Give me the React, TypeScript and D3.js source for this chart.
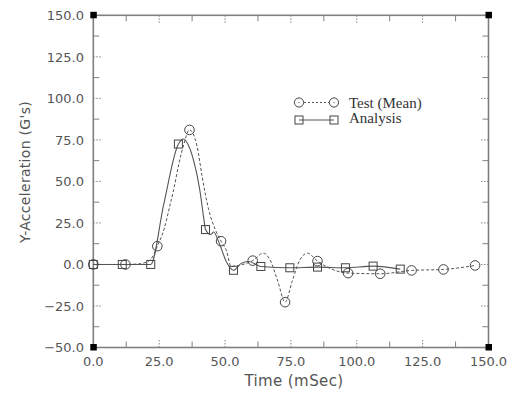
import React from "react";
import * as d3 from "d3";

// Marker positions (every plotted symbol)
const testTime = [0, 12.2, 24.3, 36.5, 48.5, 60.5, 72.8, 85.1, 96.7, 108.9, 120.8, 132.9, 144.9];
const testAcc = [0, 0, 11, 81, 14, 2.3, -22.7, 2, -5.2, -5.6, -3.6, -3, -0.6];

const anaTime = [0, 11, 21.8, 32.3, 42.6, 53.2, 63.6, 74.6, 85.1, 95.7, 106.2, 116.5];
const anaAcc = [0, 0, 0, 72.5, 21, -3.5, -1.2, -2, -1.6, -2, -1, -2.8];

// Underlying time histories (lines)
const testLineTime = [0, 12.2, 18, 21.6, 24.3, 27, 29, 30.5, 32.4, 34.3, 36.5, 39.4, 41.3, 43.8, 46.3, 48.5, 50.6, 52.3, 55.5, 60.5, 64.5, 67, 70, 72.8, 75.5, 78.5, 81.3, 85.1, 96.7, 108.9, 120.8, 132.9, 144.9];
const testLineAcc = [0, 0, 0.5, 2.7, 11, 22, 35, 45, 60, 72, 81, 71, 53, 33, 21, 14, 8, -1.3, -0.5, 2.3, 6.8, 3, -10, -22.7, -10, 3, 6.8, 2, -5.2, -5.6, -3.6, -3, -0.6];

const anaLineTime = [0, 11, 21.8, 26.7, 32.3, 34.3, 36, 38, 40.6, 41.9, 42.6, 44.5, 45.7, 47.5, 50.7, 53.2, 56, 59, 63.6, 74.6, 85.1, 95.7, 106.2, 116.5];
const anaLineAcc = [0, 0, 0, 36, 72.5, 75.5, 72, 63, 43, 28, 21, 18, 19.5, 14, 1, -3.5, 0.5, 1.8, -1.2, -2, -1.6, -2, -1, -2.8];

const xTicks = [0, 25, 50, 75, 100, 125, 150];
const yTicks = [-50, -25, 0, 25, 50, 75, 100, 125, 150];
const xMinor = [12.5, 37.5, 62.5, 87.5, 112.5, 137.5];
const yMinor = [-37.5, -12.5, 12.5, 37.5, 62.5, 87.5, 112.5, 137.5];

const legendLabels = ["Test (Mean)", "Analysis"];

const W = 517, H = 399;
const L = 93.3, R = 488.5, T = 15.3, B = 347.5;
const axisColor = "#808080";
const lineColor = "#555";
const textColor = "#555";
const sans = "'DejaVu Sans', sans-serif";

export default function App() {
  const x = d3.scaleLinear().domain([0, 150]).range([L, R]);
  const y = d3.scaleLinear().domain([-50, 150]).range([B, T]);

  const lineGen = d3
    .line<[number, number]>()
    .x((d) => x(d[0]))
    .y((d) => y(d[1]))
    .curve(d3.curveMonotoneX);

  const testPts: [number, number][] = testTime.map((t, i) => [t, testAcc[i]]);
  const anaPts: [number, number][] = anaTime.map((t, i) => [t, anaAcc[i]]);
  const testLine: [number, number][] = testLineTime.map((t, i) => [t, testLineAcc[i]]);
  const anaLine: [number, number][] = anaLineTime.map((t, i) => [t, anaLineAcc[i]]);

  const tickLen = 6;
  const majorLen = 9;

  return (
    <svg
      width={W}
      height={H}
      style={{ position: "absolute", left: 0, top: 0, background: "#fff", display: "block" }}
    >
      <rect x={0} y={0} width={W} height={H} fill="#fff" />
      <rect x={L} y={T} width={R - L} height={B - T} fill="none" stroke={axisColor} strokeWidth={1.6} />
      {xMinor.map((v) => (
        <g key={"xm" + v}>
          <line x1={x(v)} x2={x(v)} y1={B} y2={B - tickLen} stroke={axisColor} strokeWidth={1} />
          <line x1={x(v)} x2={x(v)} y1={T} y2={T + tickLen} stroke={axisColor} strokeWidth={1} />
        </g>
      ))}
      {xTicks.slice(1, -1).map((v) => (
        <g key={"xM" + v}>
          <line x1={x(v)} x2={x(v)} y1={B} y2={B - majorLen} stroke={axisColor} strokeWidth={1} strokeDasharray="1.5,1.5" />
          <line x1={x(v)} x2={x(v)} y1={T} y2={T + majorLen} stroke={axisColor} strokeWidth={1} strokeDasharray="1.5,1.5" />
        </g>
      ))}
      {yMinor.map((v) => (
        <g key={"ym" + v}>
          <line x1={L} x2={L + tickLen} y1={y(v)} y2={y(v)} stroke={axisColor} strokeWidth={1} />
          <line x1={R} x2={R - tickLen} y1={y(v)} y2={y(v)} stroke={axisColor} strokeWidth={1} />
        </g>
      ))}
      {yTicks.slice(1, -1).map((v) => (
        <g key={"yM" + v}>
          <line x1={L} x2={L + majorLen} y1={y(v)} y2={y(v)} stroke={axisColor} strokeWidth={1} strokeDasharray="1.5,1.5" />
          <line x1={R} x2={R - majorLen} y1={y(v)} y2={y(v)} stroke={axisColor} strokeWidth={1} strokeDasharray="1.5,1.5" />
        </g>
      ))}
      {[
        [L, T],
        [R, T],
        [L, B],
        [R, B],
      ].map(([cx, cy], i) => (
        <rect key={"c" + i} x={cx - 3} y={cy - 3.5} width={6.5} height={6.5} fill="#000" />
      ))}
      {yTicks.map((v) => (
        <text
          key={"yl" + v}
          x={84}
          y={y(v)}
          dy="0.36em"
          textAnchor="end"
          fontFamily={sans}
          fontSize={13}
          fill={textColor}
        >
          {v < 0 ? "\u2212" + Math.abs(v).toFixed(1) : v.toFixed(1)}
        </text>
      ))}
      {xTicks.map((v) => (
        <text
          key={"xl" + v}
          x={x(v)}
          y={366}
          textAnchor="middle"
          fontFamily={sans}
          fontSize={13}
          fill={textColor}
        >
          {v.toFixed(1)}
        </text>
      ))}
      <text x={294} y={386} textAnchor="middle" fontFamily={sans} fontSize={15} letterSpacing={0.4} fill={textColor}>
        Time (mSec)
      </text>
      <text
        transform={`translate(30,172) rotate(-90)`}
        textAnchor="middle"
        fontFamily={sans}
        fontSize={14}
        letterSpacing={0.3}
        fill={textColor}
      >
        Y-Acceleration (G's)
      </text>
      <path d={lineGen(testLine) || ""} fill="none" stroke={lineColor} strokeWidth={1} strokeDasharray="3,2" />
      <path d={lineGen(anaLine) || ""} fill="none" stroke={lineColor} strokeWidth={1.1} />
      {testPts.map((d, i) => (
        <g key={"tc" + i}>
          <circle cx={x(d[0])} cy={y(d[1])} r={4.8} fill="none" stroke="#444" strokeWidth={1} />
        </g>
      ))}
      {anaPts.map((d, i) => (
        <rect key={"ar" + i} x={x(d[0]) - 4} y={y(d[1]) - 4} width={8} height={8} fill="none" stroke="#444" strokeWidth={1} />
      ))}
      <g>
        <line x1={304} x2={329} y1={102.5} y2={102.5} stroke={lineColor} strokeWidth={1} strokeDasharray="2,2" />
        <circle cx={299} cy={102.5} r={4.6} fill="none" stroke="#444" />
        <circle cx={334} cy={102.5} r={4.6} fill="none" stroke="#444" />
        <circle cx={299} cy={102.5} r={0.6} fill="#444" />
        <circle cx={334} cy={102.5} r={0.6} fill="#444" />
        <text x={349} y={108} fontFamily="'Liberation Serif', serif" fontSize={15} fill="#333">
          {legendLabels[0]}
        </text>
        <line x1={299} x2={334} y1={120} y2={120} stroke={lineColor} strokeWidth={1} />
        <rect x={295} y={116} width={8} height={8} fill="none" stroke="#444" />
        <rect x={330} y={116} width={8} height={8} fill="none" stroke="#444" />
        <text x={349} y={123} fontFamily="'Liberation Serif', serif" fontSize={15} fill="#333">
          {legendLabels[1]}
        </text>
      </g>
    </svg>
  );
}
